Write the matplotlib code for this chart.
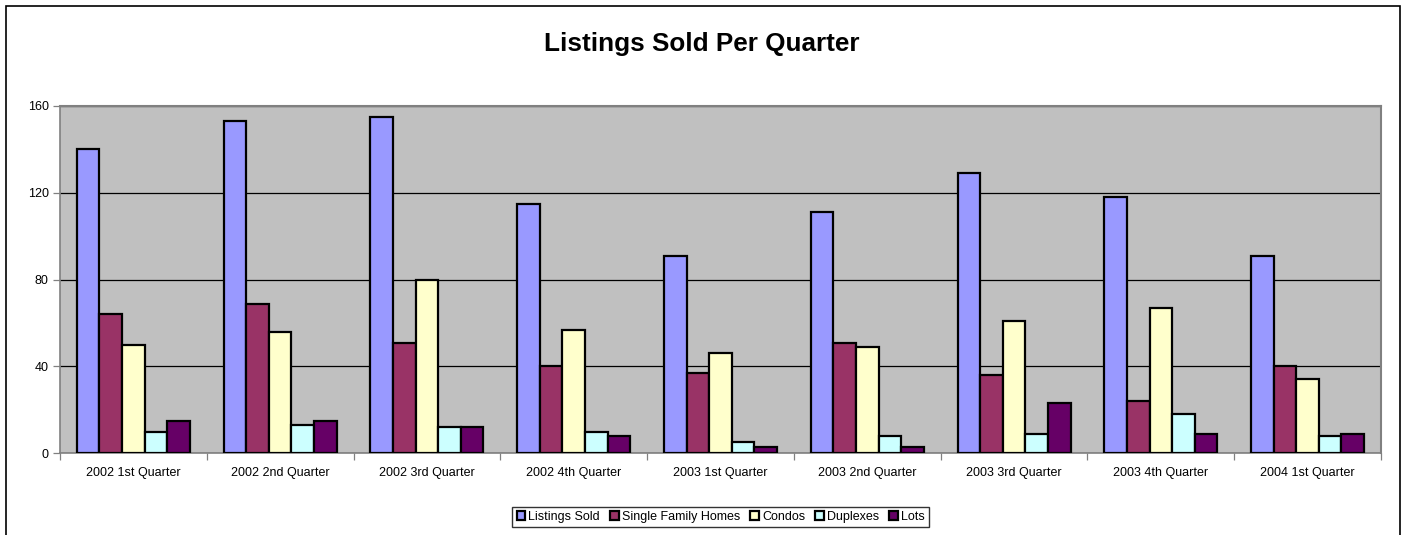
import matplotlib
matplotlib.use("Agg")
import matplotlib.pyplot as plt
import numpy as np
from matplotlib.patches import Rectangle

# --- data ---
quarters = ["2002 1st Quarter", "2002 2nd Quarter", "2002 3rd Quarter",
            "2002 4th Quarter", "2003 1st Quarter", "2003 2nd Quarter",
            "2003 3rd Quarter", "2003 4th Quarter", "2004 1st Quarter"]
listings_sold = [140, 153, 155, 115, 91, 111, 129, 118, 91]
single_family = [64, 69, 51, 40, 37, 51, 36, 24, 40]
condos = [50, 56, 80, 57, 46, 49, 61, 67, 34]
duplexes = [10, 13, 12, 10, 5, 8, 9, 18, 8]
lots = [15, 15, 12, 8, 3, 3, 23, 9, 9]

series_names = ["Listings Sold", "Single Family Homes", "Condos", "Duplexes", "Lots"]
series_colors = ["#9999FF", "#993366", "#FFFFCC", "#CCFFFF", "#660066"]

plt.rcParams["font.family"] = ["Liberation Sans", "DejaVu Sans"]

fig = plt.figure(figsize=(14.04, 5.35), dpi=100)
ax = fig.add_axes([0.0427, 0.1527, 0.9409, 0.6492])

series = [listings_sold, single_family, condos, duplexes, lots]
n = len(series)
bar_w = 0.77 / n
x = np.arange(len(quarters))
for i, (vals, name, col) in enumerate(zip(series, series_names, series_colors)):
    offs = -0.385 + bar_w * (i + 0.5)
    ax.bar(x + offs, vals, width=bar_w, color=col, edgecolor="black",
           linewidth=1.6, label=name, zorder=3)

ax.set_facecolor("#C0C0C0")
ax.set_xlim(-0.5, len(quarters) - 0.5)
ax.set_ylim(0, 160)
ax.set_yticks([0, 40, 80, 120, 160])
ax.yaxis.grid(True, color="black", linewidth=0.9, zorder=1)
ax.set_axisbelow(True)

# category labels centred, ticks on the boundaries
ax.set_xticks(x)
ax.set_xticklabels(quarters, fontsize=9)
ax.tick_params(axis="x", length=0, pad=10)
ax.set_xticks(np.arange(-0.5, len(quarters)), minor=True)
ax.tick_params(axis="x", which="minor", length=5, width=0.9, color="#808080")
ax.tick_params(axis="y", labelsize=9, length=5, width=0.9, color="#808080", pad=3)

for side in ["top", "right"]:
    ax.spines[side].set_color("#808080")
    ax.spines[side].set_linewidth(1.5)
ax.spines["left"].set_color("#808080")
ax.spines["bottom"].set_color("#808080")
ax.spines["left"].set_linewidth(1.2)
ax.spines["bottom"].set_linewidth(1.2)

fig.text(0.5, 0.918, "Listings Sold Per Quarter", ha="center", va="center",
         fontsize=18.8, fontweight="bold")

leg = fig.legend(loc="center", bbox_to_anchor=(0.5133, 0.0336), ncol=5,
                 fontsize=9, frameon=True, fancybox=False,
                 handlelength=0.7, handleheight=0.7, handletextpad=0.25,
                 columnspacing=0.8, borderpad=0.35, borderaxespad=0)
leg.get_frame().set_edgecolor("black")
leg.get_frame().set_linewidth(1.0)

# outer chart border
fig.patches.append(Rectangle((6 / 1404, -0.01), 1394 / 1404, 1.01 - 6 / 535,
                             transform=fig.transFigure, fill=False,
                             edgecolor="black", linewidth=1.2))

fig.savefig("out.png", dpi=100)
